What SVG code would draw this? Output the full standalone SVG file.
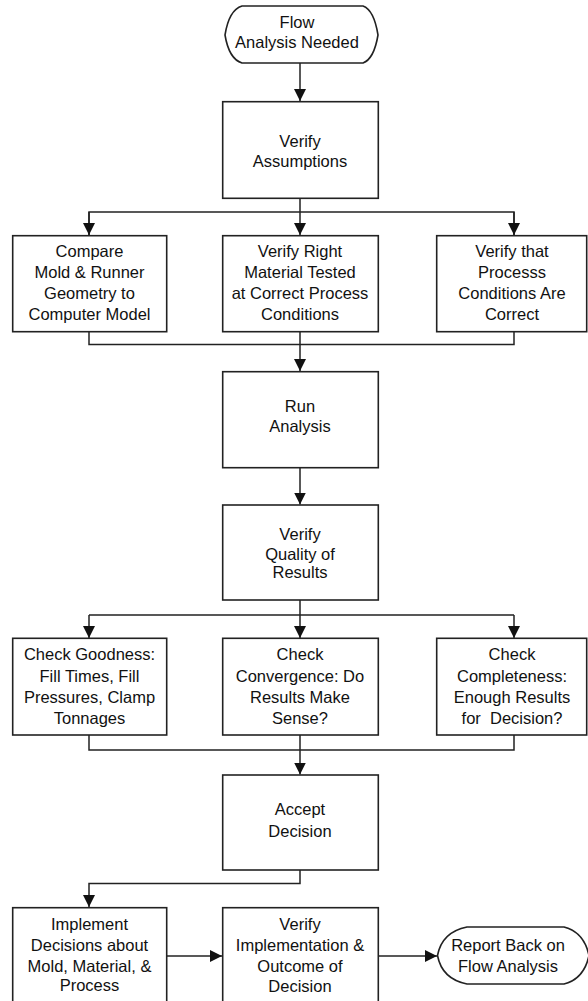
<svg xmlns="http://www.w3.org/2000/svg" width="588" height="1001" viewBox="0 0 588 1001">
<style>
.box{fill:#fff;stroke:#222;stroke-width:1.6}
.t{font-family:"Liberation Sans",Arial,sans-serif;font-size:16.5px;fill:#111;text-anchor:middle}
.c{fill:none;stroke:#222;stroke-width:1.5}
</style>
<defs>
<marker id="ah" markerUnits="userSpaceOnUse" markerWidth="12" markerHeight="12" viewBox="0 0 12 12" refX="12" refY="6" orient="auto">
<path d="M0,0 L12,6 L0,12 Z" fill="#111"/>
</marker>
</defs>
<rect width="588" height="1001" fill="#fff"/>
<g id="connectors">
<path class="c" d="M300,63 V101" marker-end="url(#ah)"/>
<path class="c" d="M300,198 V212 M89,235.5 V212 H514 V235.5"/>
<path class="c" d="M89,212 V235" marker-end="url(#ah)"/>
<path class="c" d="M300,212 V235" marker-end="url(#ah)"/>
<path class="c" d="M514,212 V235" marker-end="url(#ah)"/>
<path class="c" d="M89,332 V344.5 H514 V332"/>
<path class="c" d="M300,332 V371" marker-end="url(#ah)"/>
<path class="c" d="M300,468 V504.5" marker-end="url(#ah)"/>
<path class="c" d="M300,600 V615 M89,615 H514"/>
<path class="c" d="M89,615 V638" marker-end="url(#ah)"/>
<path class="c" d="M300,615 V638" marker-end="url(#ah)"/>
<path class="c" d="M514,615 V638" marker-end="url(#ah)"/>
<path class="c" d="M89,735 V750 H514 V735"/>
<path class="c" d="M300,735 V774.5" marker-end="url(#ah)"/>
<path class="c" d="M300,870 V883.5 H89 V907" marker-end="url(#ah)"/>
<path class="c" d="M167,956 H222" marker-end="url(#ah)"/>
<path class="c" d="M378,956 H437" marker-end="url(#ah)"/>
</g>
<g id="start">
<path class="box" d="M242,6 L363,6 Q374,10 378,35 Q374,59 363,63 L242,63 Q229,59 225,35 Q229,10 242,6 Z"/>
<text class="t" x="297" y="28">Flow</text>
<text class="t" x="297" y="48">Analysis Needed</text>
</g>
<g id="verify-assumptions">
<rect class="box" x="222.7" y="101.7" width="155.6" height="96.6"/>
<text class="t" x="300" y="146.5">Verify</text>
<text class="t" x="300" y="167">Assumptions</text>
</g>
<g id="compare-mold">
<rect class="box" x="12.7" y="235.7" width="154" height="96"/>
<text class="t" x="89.5" y="257">Compare</text>
<text class="t" x="89.5" y="278">Mold &amp; Runner</text>
<text class="t" x="89.5" y="299">Geometry to</text>
<text class="t" x="89.5" y="320">Computer Model</text>
</g>
<g id="verify-material">
<rect class="box" x="222.7" y="235.7" width="155.6" height="96"/>
<text class="t" x="300" y="257">Verify Right</text>
<text class="t" x="300" y="278">Material Tested</text>
<text class="t" x="300" y="299">at Correct Process</text>
<text class="t" x="300" y="320">Conditions</text>
</g>
<g id="verify-process">
<rect class="box" x="436.7" y="235.7" width="150" height="96"/>
<text class="t" x="512" y="257">Verify that</text>
<text class="t" x="512" y="278">Processs</text>
<text class="t" x="512" y="299">Conditions Are</text>
<text class="t" x="512" y="320">Correct</text>
</g>
<g id="run-analysis">
<rect class="box" x="222.7" y="371.7" width="155.6" height="96"/>
<text class="t" x="300" y="411.5">Run</text>
<text class="t" x="300" y="431.5">Analysis</text>
</g>
<g id="verify-quality">
<rect class="box" x="222.7" y="505" width="155.6" height="95"/>
<text class="t" x="300" y="540">Verify</text>
<text class="t" x="300" y="560">Quality of</text>
<text class="t" x="300" y="578">Results</text>
</g>
<g id="check-goodness">
<rect class="box" x="12.7" y="638.3" width="154" height="96.7"/>
<text class="t" x="89.5" y="660">Check Goodness:</text>
<text class="t" x="89.5" y="681.5">Fill Times, Fill</text>
<text class="t" x="89.5" y="702.5">Pressures, Clamp</text>
<text class="t" x="89.5" y="723.5">Tonnages</text>
</g>
<g id="check-convergence">
<rect class="box" x="222.7" y="638.3" width="155.6" height="96.7"/>
<text class="t" x="300" y="660">Check</text>
<text class="t" x="300" y="681.5">Convergence: Do</text>
<text class="t" x="300" y="702.5">Results Make</text>
<text class="t" x="300" y="723.5">Sense?</text>
</g>
<g id="check-completeness">
<rect class="box" x="436.7" y="638.3" width="150" height="96.7"/>
<text class="t" x="512" y="660">Check</text>
<text class="t" x="512" y="681.5">Completeness:</text>
<text class="t" x="512" y="702.5">Enough Results</text>
<text class="t" x="512" y="723.5" xml:space="preserve">for  Decision?</text>
</g>
<g id="accept-decision">
<rect class="box" x="222.7" y="775" width="155.6" height="95"/>
<text class="t" x="300" y="815">Accept</text>
<text class="t" x="300" y="836.5">Decision</text>
</g>
<g id="implement-decisions">
<rect class="box" x="12.7" y="907.7" width="154" height="96"/>
<text class="t" x="89.5" y="930">Implement</text>
<text class="t" x="89.5" y="950.5">Decisions about</text>
<text class="t" x="89.5" y="971.5">Mold, Material, &amp;</text>
<text class="t" x="89.5" y="991">Process</text>
</g>
<g id="verify-implementation">
<rect class="box" x="222.7" y="907.7" width="155.6" height="96"/>
<text class="t" x="300" y="930">Verify</text>
<text class="t" x="300" y="950.5">Implementation &amp;</text>
<text class="t" x="300" y="971.5">Outcome of</text>
<text class="t" x="300" y="991.5">Decision</text>
</g>
<g id="report-back">
<path class="box" d="M467,927 L564,927 Q584,932 589,955.5 Q584,979 564,984 L467,984 Q442,979 437.5,955.5 Q442,932 467,927 Z"/>
<text class="t" x="508" y="950.5">Report Back on</text>
<text class="t" x="508" y="971.5">Flow Analysis</text>
</g>
</svg>
